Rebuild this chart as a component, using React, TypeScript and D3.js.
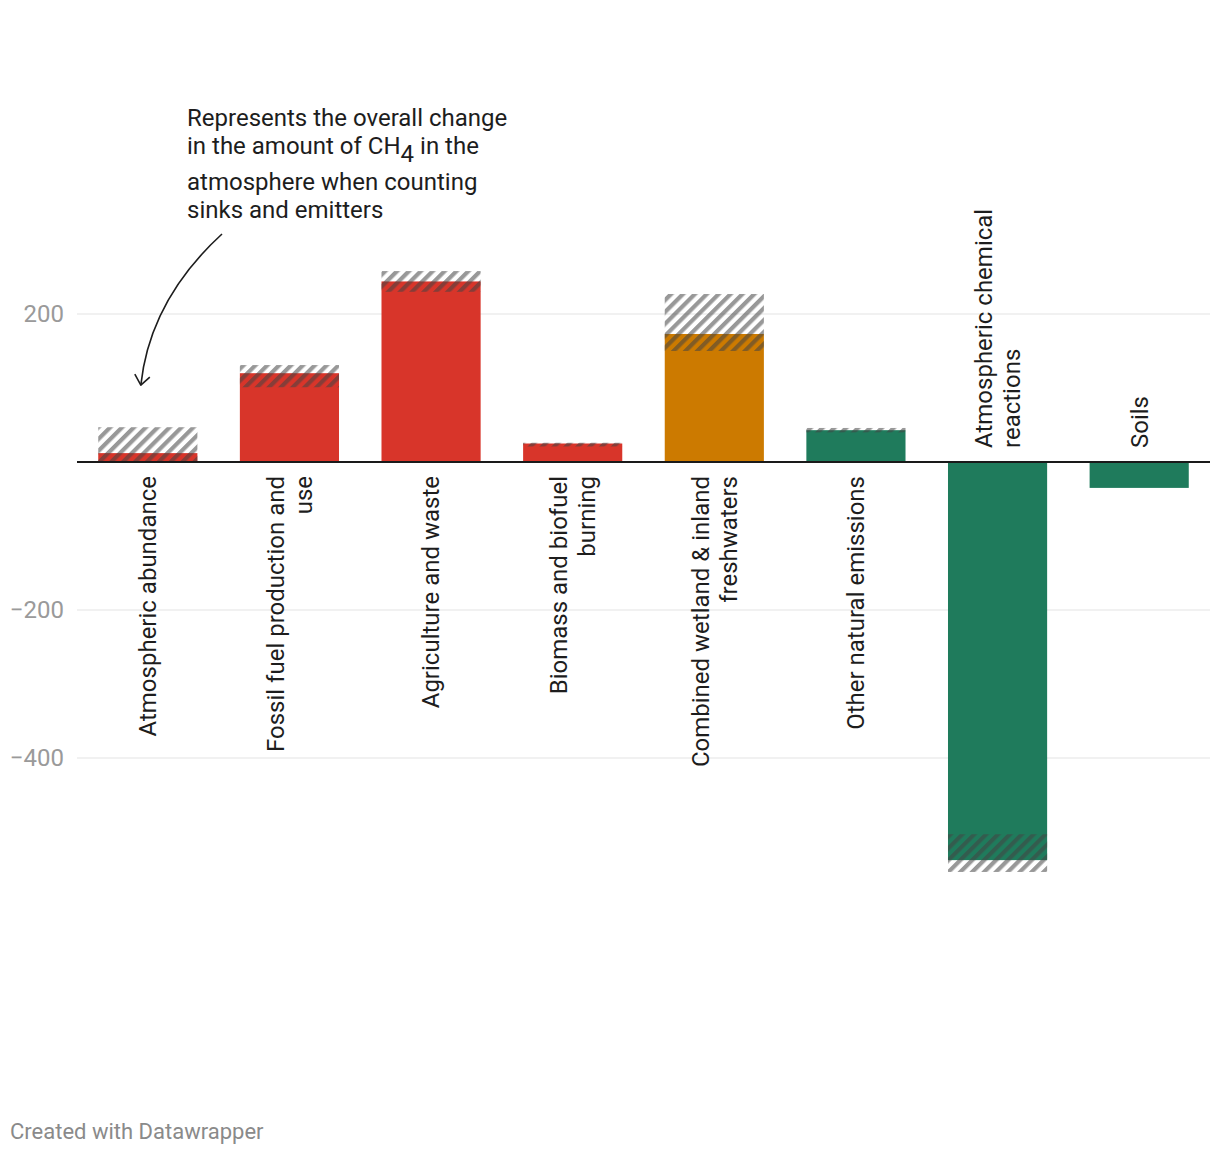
import * as d3 from 'd3';
import React, { useEffect, useRef } from 'react';

// methane budget, Tg CH4 / yr
const categories = [
    'Atmospheric abundance',
    'Fossil fuel production and use',
    'Agriculture and waste',
    'Biomass and biofuel burning',
    'Combined wetland & inland freshwaters',
    'Other natural emissions',
    'Atmospheric chemical reactions',
    'Soils',
];
const labelLines = [
    ['Atmospheric abundance'],
    ['Fossil fuel production and', 'use'],
    ['Agriculture and waste'],
    ['Biomass and biofuel', 'burning'],
    ['Combined wetland & inland', 'freshwaters'],
    ['Other natural emissions'],
    ['Atmospheric chemical', 'reactions'],
    ['Soils'],
];
const values = [12, 120, 244, 25, 173, 43, -538, -35];
const rangeLow = [0, 101, 230, 21, 150, 40, -554, null];
const rangeHigh = [47, 131, 258, 26, 227, 46, -503, null];
const groups = ['human', 'human', 'human', 'human', 'wetland', 'natural', 'natural', 'natural'];
const yTicks = [200, -200, -400];

const colors: Record<string, string> = {
    human: '#d8352a',
    wetland: '#cc7a00',
    natural: '#1f7b5c',
};

const width = 1220;
const height = 1158;
const marginLeft = 77;
const marginRight = 10;

const MethaneChart = () => {
    const svgRef = useRef<SVGSVGElement | null>(null);

    useEffect(() => {
        const svg = d3.select(svgRef.current);
        svg.selectAll('*').remove();

        const x = d3
            .scaleBand<string>()
            .domain(categories)
            .range([marginLeft, width - marginRight])
            .paddingInner(0.3)
            .paddingOuter(0.15);

        const y = d3.scaleLinear().domain([-600, 300]).range([906, 240]);

        const defs = svg.append('defs');
        const pat = defs
            .append('pattern')
            .attr('id', 'hatch')
            .attr('patternUnits', 'userSpaceOnUse')
            .attr('width', 8.4)
            .attr('height', 8.4)
            .attr('patternTransform', 'rotate(45)');
        pat.append('rect')
            .attr('width', 4.2)
            .attr('height', 8.4)
            .attr('fill', '#444')
            .attr('fill-opacity', 0.55);

        // grid
        svg.append('g')
            .selectAll('line')
            .data(yTicks)
            .join('line')
            .attr('x1', marginLeft)
            .attr('x2', width - marginRight)
            .attr('y1', (d) => y(d))
            .attr('y2', (d) => y(d))
            .attr('stroke', '#e3e3e3')
            .attr('stroke-width', 1);

        svg.append('g')
            .selectAll('text')
            .data(yTicks)
            .join('text')
            .attr('x', marginLeft - 13)
            .attr('y', (d) => y(d))
            .attr('dy', '0.35em')
            .attr('text-anchor', 'end')
            .attr('fill', '#9a9a9a')
            .attr('font-size', 24)
            .text((d) => d3.format('')(d).replace('-', '\u2212'));

        const idx = d3.range(categories.length);

        // bars
        svg.append('g')
            .selectAll('rect')
            .data(idx)
            .join('rect')
            .attr('x', (i) => x(categories[i])!)
            .attr('width', x.bandwidth())
            .attr('y', (i) => y(Math.max(0, values[i])))
            .attr('height', (i) => Math.abs(y(values[i]) - y(0)))
            .attr('fill', (i) => colors[groups[i]]);

        // uncertainty ranges
        svg.append('g')
            .selectAll('rect')
            .data(idx.filter((i) => rangeLow[i] !== null))
            .join('rect')
            .attr('x', (i) => x(categories[i])!)
            .attr('width', x.bandwidth())
            .attr('y', (i) => y(rangeHigh[i] as number))
            .attr('height', (i) => y(rangeLow[i] as number) - y(rangeHigh[i] as number))
            .attr('fill', 'url(#hatch)');

        // baseline
        svg.append('line')
            .attr('x1', marginLeft)
            .attr('x2', width - marginRight)
            .attr('y1', y(0))
            .attr('y2', y(0))
            .attr('stroke', '#1a1a1a')
            .attr('stroke-width', 2);

        // category labels, rotated
        const lineH = 28;
        const labels = svg
            .append('g')
            .selectAll('text')
            .data(idx)
            .join('text')
            .attr('transform', (i) => {
                const cx = x(categories[i])! + x.bandwidth() / 2;
                const cy = values[i] >= 0 ? y(0) + 14 : y(0) - 14;
                return `translate(${cx},${cy}) rotate(-90)`;
            })
            .attr('text-anchor', (i) => (values[i] >= 0 ? 'end' : 'start'))
            .attr('fill', '#1d1d1d')
            .attr('font-size', 24);
        labels
            .selectAll('tspan')
            .data((i) => labelLines[i].map((t, j, arr) => ({ t, off: (j - (arr.length - 1) / 2) * lineH })))
            .join('tspan')
            .attr('x', 0)
            .attr('y', (d) => d.off)
            .attr('dy', '0.35em')
            .text((d) => d.t);

        // annotation
        const note = svg
            .append('text')
            .attr('fill', '#1d1d1d')
            .attr('font-size', 24);
        const nx = 187;
        note.append('tspan').attr('x', nx).attr('y', 126).text('Represents the overall change');
        const l2 = note.append('tspan').attr('x', nx).attr('y', 154);
        l2.append('tspan').text('in the amount of CH');
        l2.append('tspan').attr('dy', 8).text('4');
        l2.append('tspan').attr('dy', -8).text(' in the');
        note.append('tspan').attr('x', nx).attr('y', 190).text('atmosphere when counting');
        note.append('tspan').attr('x', nx).attr('y', 218).text('sinks and emitters');

        const tipX = x(categories[0])! + x.bandwidth() / 2 - 7;
        const tipY = y(104);
        svg.append('path')
            .attr('d', `M222,234 Q150,300 ${tipX},${tipY}`)
            .attr('fill', 'none')
            .attr('stroke', '#1d1d1d')
            .attr('stroke-width', 1.6);
        svg.append('path')
            .attr('d', `M${tipX - 6},${tipY - 11} L${tipX},${tipY} L${tipX + 9},${tipY - 8}`)
            .attr('fill', 'none')
            .attr('stroke', '#1d1d1d')
            .attr('stroke-width', 1.6)
            .attr('stroke-linejoin', 'round');

        // footer
        svg.append('text')
            .attr('x', 10)
            .attr('y', 1139)
            .attr('fill', '#8a8a8a')
            .attr('font-size', 22)
            .text('Created with Datawrapper');
    }, []);

    return (
        <svg
            ref={svgRef}
            width={width}
            height={height}
            viewBox={`0 0 ${width} ${height}`}
            style={{ position: 'absolute', left: 0, top: 0, fontFamily: 'Roboto, sans-serif', background: '#fff' }}
        />
    );
};

export default function App() {
    return <MethaneChart />;
}
